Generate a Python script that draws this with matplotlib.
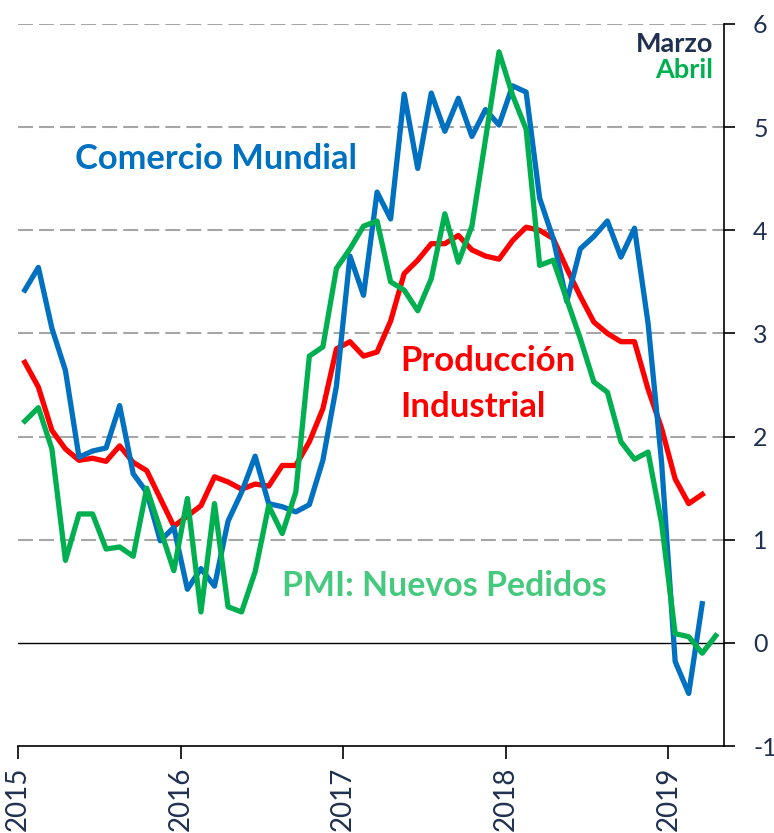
import matplotlib
matplotlib.use("Agg")
import matplotlib.pyplot as plt
import numpy as np

plt.rcParams['font.family'] = ['Lato', 'DejaVu Sans']

c_blue = "#0070C0"; c_red = "#FF0000"; c_green = "#00B050"
c_pmi_txt = "#45C97E"; c_navy = "#1F3050"; c_grid = "#A6A6A6"

# monthly data, Jan 2015 .. Apr 2019
years = ['2015', '2016', '2017', '2018', '2019']

comercio = [3.42, 3.64, 3.05, 2.64, 1.80, 1.86, 1.89, 2.30, 1.64, 1.46, 0.99, 1.12,
            0.52, 0.72, 0.55, 1.18, 1.46, 1.81, 1.35, 1.32, 1.27, 1.34, 1.77, 2.49,
            3.75, 3.37, 4.37, 4.11, 5.32, 4.60, 5.33, 4.96, 5.28, 4.91, 5.17, 5.02,
            5.40, 5.34, 4.31, 3.92, 3.31, 3.82, 3.94, 4.09, 3.74, 4.02, 3.10, 1.75,
            -0.18, -0.49, 0.38]

produccion = [2.72, 2.48, 2.06, 1.88, 1.77, 1.79, 1.76, 1.91, 1.75, 1.67, 1.40, 1.13,
              1.23, 1.33, 1.61, 1.56, 1.49, 1.54, 1.52, 1.72, 1.72, 1.95, 2.27, 2.85,
              2.92, 2.78, 2.82, 3.12, 3.58, 3.71, 3.87, 3.87, 3.95, 3.81, 3.75, 3.72,
              3.90, 4.03, 4.00, 3.92, 3.63, 3.36, 3.11, 3.00, 2.92, 2.92, 2.46, 2.08,
              1.59, 1.35, 1.44]

pmi = [2.15, 2.28, 1.88, 0.80, 1.25, 1.25, 0.91, 0.93, 0.84, 1.50, 1.10, 0.70,
       1.40, 0.30, 1.35, 0.35, 0.30, 0.69, 1.33, 1.06, 1.46, 2.78, 2.87, 3.63,
       3.82, 4.04, 4.09, 3.50, 3.42, 3.22, 3.53, 4.16, 3.69, 4.04, 4.88, 5.73,
       5.31, 4.98, 3.66, 3.71, 3.33, 2.95, 2.53, 2.43, 1.95, 1.78, 1.85, 1.16,
       0.09, 0.06, -0.10, 0.07]

fig = plt.figure(figsize=(7.74, 8.33), dpi=100)
ax = fig.add_axes([0.0233, 0.1044, 0.912, 0.8668])

for v in range(1, 7):
    ax.axhline(v, color=c_grid, lw=1.5, ls=(0, (7.2, 2.9)), zorder=0)
ax.axhline(0, color='black', lw=1.0, zorder=1)

ax.plot(np.arange(len(comercio)), comercio, color=c_blue, lw=3.8, zorder=3)
ax.plot(np.arange(len(produccion)), produccion, color=c_red, lw=3.8, zorder=2)
ax.plot(np.arange(len(pmi)), pmi, color=c_green, lw=3.8, zorder=4)

ax.set_xlim(-0.5, 51.6)
ax.set_ylim(-1, 6)

ax.spines['left'].set_visible(False)
ax.spines['top'].set_visible(False)
ax.spines['right'].set_linewidth(1.2)
ax.spines['bottom'].set_linewidth(1.2)

ax.yaxis.tick_right()
ax.set_yticks(range(-1, 7))
ax.set_yticklabels([str(v) for v in range(-1, 7)])
ax.tick_params(axis='y', direction='out', length=8, width=1.2, pad=13,
               labelsize=18, labelcolor=c_navy)

ax.set_xticks(np.arange(len(years)) * 12 - 0.5)
ax.set_xticklabels(years, rotation=90)
ax.tick_params(axis='x', direction='out', length=9, width=1.2, pad=6,
               labelsize=20, labelcolor=c_navy)

# labels
ax.text(3.7, 4.69, "Comercio Mundial", color=c_blue, fontsize=24.8,
        fontweight='bold', va='center', ha='left')
ax.text(27.7, 2.73, "Producción", color=c_red, fontsize=25,
        fontweight='bold', va='center', ha='left')
ax.text(27.7, 2.29, "Industrial", color=c_red, fontsize=25,
        fontweight='bold', va='center', ha='left')
ax.text(19.0, 0.55, "PMI: Nuevos Pedidos", color=c_pmi_txt, fontsize=24.4,
        fontweight='bold', va='center', ha='left')
ax.text(50.8, 5.81, "Marzo", color=c_navy, fontsize=19.5,
        fontweight='bold', va='center', ha='right')
ax.text(50.8, 5.55, "Abril", color=c_green, fontsize=19.5,
        fontweight='bold', va='center', ha='right')

fig.savefig("out.png", dpi=100)
